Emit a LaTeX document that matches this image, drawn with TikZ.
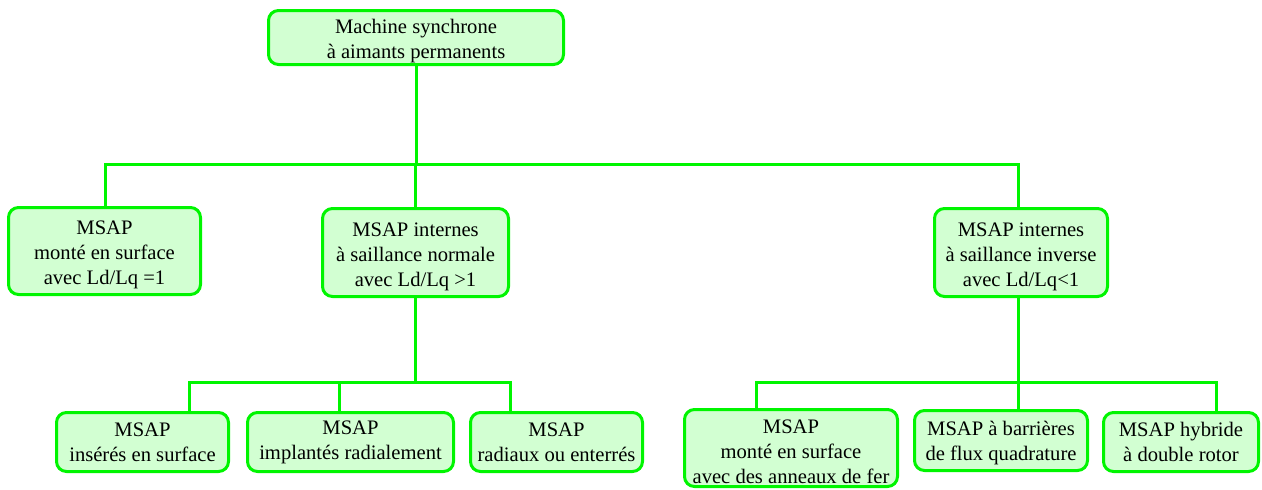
\documentclass[tikz,border=0pt]{standalone}
\usepackage{fontspec}
\setmainfont{Liberation Serif}
\definecolor{lgreen}{RGB}{0,245,0}
\definecolor{lfill}{RGB}{210,255,210}
\newcommand{\upstrut}[1]{\rule{0pt}{#1}}
\tikzset{
  box/.style={draw=lgreen, fill=lfill, line width=3pt, rounded corners=10pt,
    inner sep=0pt, align=center, font=\fontsize{20.6}{25}\selectfont},
  link/.style={draw=lgreen, line width=3pt}
}
\begin{document}
\begin{tikzpicture}[x=1pt,y=-1pt]
\useasboundingbox (0,0) rectangle (1262,490);
\node[box, minimum width=295pt, minimum height=54pt] (top) at (416,37.5) {\upstrut{22pt}Machine synchrone\\à aimants permanents};
\node[box, minimum width=192pt, minimum height=87pt] (b1) at (104.5,251) {\upstrut{22pt}MSAP\\monté en surface\\avec Ld/Lq =1};
\node[box, minimum width=186pt, minimum height=88pt] (b2) at (415.5,252.5) {\upstrut{22pt}MSAP internes\\à saillance normale\\avec Ld/Lq >1};
\node[box, minimum width=173pt, minimum height=88pt] (b3) at (1021,252.5) {\upstrut{22pt}MSAP internes\\ à saillance inverse\\avec Ld/Lq<1};
\node[box, minimum width=172pt, minimum height=59pt] (b4) at (142.5,442) {MSAP\\insérés en surface};
\node[box, minimum width=206pt, minimum height=59pt] (b5) at (350.5,442) {MSAP\\implantés radialement};
\node[box, minimum width=172pt, minimum height=59pt] (b6) at (556.5,442) {MSAP\\radiaux ou enterrés};
\node[box, minimum width=213pt, minimum height=77pt] (b7) at (791,448) {\upstrut{22pt}MSAP\\monté en surface\\avec des anneaux de fer};
\node[box, minimum width=173pt, minimum height=60pt] (b8) at (1001,440.5) {\upstrut{20pt}MSAP à barrières\\de flux quadrature};
\node[box, minimum width=155pt, minimum height=59pt] (b9) at (1181,442) {MSAP hybride\\à double rotor};
\coordinate (h1L) at (105,164);
\coordinate (h1R) at (1018,164);
\coordinate (h2L) at (189,382);
\coordinate (h2R) at (510,382);
\coordinate (s5) at (339,382);
\coordinate (h3L) at (756,382);
\coordinate (h3R) at (1216,382);
\draw[link] (top.south) -- (top.south |- h1L);
\draw[link] (h1L |- b1.north) -- (h1L) -- (h1R) -- (h1R |- b3.north);
\draw[link] (b2.north) -- (b2.north |- h1L);
\draw[link] (b2.south) -- (b2.south |- h2L);
\draw[link] (h2L |- b4.north) -- (h2L) -- (h2R) -- (h2R |- b6.north);
\draw[link] (s5) -- (s5 |- b5.north);
\draw[link] (h1R |- b3.south) -- (h1R |- h3L);
\draw[link] (h3L |- b7.north) -- (h3L) -- (h3R) -- (h3R |- b9.north);
\draw[link] (h1R |- h3L) -- (h1R |- b8.north);
\end{tikzpicture}
\end{document}
